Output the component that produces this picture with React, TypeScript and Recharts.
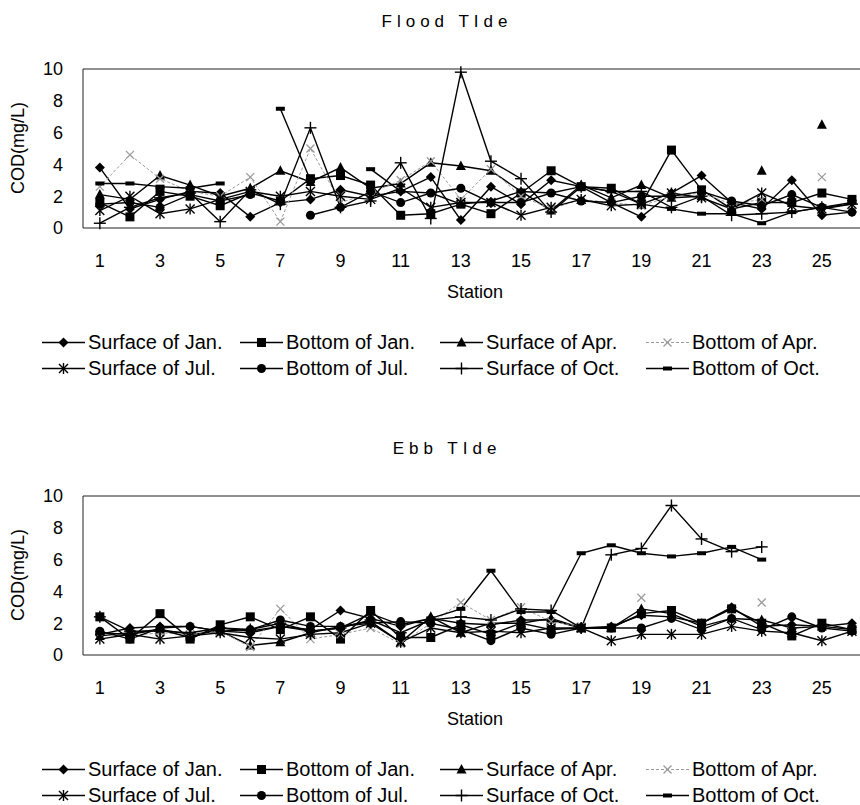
import { Line, LineChart, ReferenceLine, XAxis, YAxis } from "recharts";

const stations = [1, 2, 3, 4, 5, 6, 7, 8, 9, 10, 11, 12, 13, 14, 15, 16, 17, 18, 19, 20, 21, 22, 23, 24, 25, 26];
const stationTicks = [1, 3, 5, 7, 9, 11, 13, 15, 17, 19, 21, 23, 25];
const codTicks = [0, 2, 4, 6, 8, 10];

// Flood tide, COD (mg/L) per station
const floodSurfJan = [3.8, 1.2, 1.8, 2.3, 2.2, 0.7, 1.6, 1.8, 2.4, 2.0, 2.3, 3.2, 0.5, 2.6, 1.5, 3.0, 2.6, 1.6, 0.7, 2.2, 3.3, 1.6, 1.2, 3.0, 0.8, 1.0];
const floodBotJan = [1.6, 0.7, 2.3, 2.0, 1.4, 2.2, 1.7, 3.1, 3.3, 2.7, 0.8, 0.9, 1.5, 0.9, 2.2, 3.6, 2.6, 2.5, 1.5, 4.9, 2.4, 1.2, 1.6, 1.6, 2.2, 1.8];
const floodSurfApr = [2.1, 1.8, 3.3, 2.7, 2.0, 2.5, 3.6, 2.9, 3.8, 2.5, 2.8, 4.1, 3.9, 3.6, 2.3, 1.1, 2.7, 1.9, 2.7, 1.9, 2.0, null, 3.6, null, 6.5, null];
const floodBotApr = [2.6, 4.6, 3.1, 2.3, 2.0, 3.2, 0.4, 5.0, 1.6, 2.2, 3.0, 4.2, 1.8, 3.7, 2.0, 1.2, 1.8, 1.6, 1.4, 2.0, 2.2, 1.5, 1.8, null, 3.2, null];
const floodSurfJul = [1.1, 2.0, 0.9, 1.2, 1.8, 2.3, 2.0, 2.3, 2.0, 1.8, 2.5, 1.3, 1.6, 1.6, 0.8, 1.3, 1.8, 1.4, 1.5, 2.2, 1.9, 1.2, 2.2, 1.4, 1.2, 1.5];
const floodBotJul = [1.5, 1.6, 1.3, 2.1, 1.7, 2.1, null, 0.8, 1.3, 2.3, 1.6, 2.2, 2.5, 1.6, 1.6, 2.2, 1.7, 1.6, 2.0, 2.0, 2.3, 1.7, 1.4, 2.1, 1.3, 1.0];
const floodSurfOct = [0.3, 1.3, 1.9, 2.2, 0.4, 2.4, 1.5, 6.3, 1.3, 1.7, 4.1, 0.6, 9.8, 4.2, 3.1, 1.0, 2.6, 2.3, 2.3, 1.3, 2.0, 0.8, 0.9, 1.0, 1.3, 1.5];
const floodBotOct = [2.8, 2.8, 2.6, 2.5, 2.8, null, 7.5, 3.0, null, 3.7, 2.3, 2.2, 1.5, 1.7, 2.3, 2.2, 2.6, 2.3, 1.5, 1.2, 0.9, 0.9, 0.3, 1.0, 1.3, 1.6];

// Ebb tide
const ebbSurfJan = [1.3, 1.7, 1.8, 1.8, 1.5, 1.4, 1.8, 1.6, 2.8, 2.3, 1.8, 2.3, 2.0, 1.9, 2.2, 2.2, 1.7, 1.8, 2.5, 2.4, 2.0, 3.0, 1.8, 1.9, 1.8, 2.0];
const ebbBotJan = [2.4, 1.0, 2.6, 1.0, 1.9, 2.4, 1.6, 2.4, 1.0, 2.8, 1.1, 1.1, 1.9, 1.3, 2.0, 1.6, 1.7, 1.7, 2.6, 2.8, 2.0, 2.9, 2.0, 1.2, 2.0, 1.6];
const ebbSurfApr = [1.2, 1.4, 1.6, 1.3, 1.5, 0.6, 0.8, 1.4, 1.8, 2.1, 0.8, 2.4, 1.4, 2.0, 2.0, 2.3, 1.7, 1.7, 2.9, 2.6, 1.8, 2.3, 2.2, 1.7, 1.8, 1.6];
const ebbBotApr = [1.4, 1.2, 1.4, 1.3, 1.5, 0.5, 2.9, 1.0, 1.3, 1.7, 0.7, 2.0, 3.3, 2.2, 3.0, 2.1, 1.8, null, 3.6, null, null, null, 3.3, null, null, null];
const ebbSurfJul = [1.0, 1.3, 1.0, 1.2, 1.4, 1.1, 1.0, 1.3, 1.4, 2.0, 0.8, 1.7, 1.4, 1.5, 1.4, 1.7, 1.7, 0.9, 1.3, 1.3, 1.3, 1.8, 1.5, 1.4, 0.9, 1.5];
const ebbBotJul = [1.5, 1.0, 1.7, 1.8, 1.5, 1.6, 2.2, 1.8, 1.8, 2.0, 2.1, 2.0, 1.6, 0.9, 1.7, 1.3, 1.7, 1.7, 1.7, 2.3, 1.6, 2.3, 1.6, 2.4, 1.7, 1.5];
const ebbSurfOct = [2.4, 1.5, 1.5, 1.4, 1.7, 1.6, 2.0, 1.5, 1.7, 2.2, 1.4, 2.2, 2.4, 2.2, 2.9, 2.8, 1.7, 6.3, 6.7, 9.4, 7.3, 6.5, 6.8, null, null, null];
const ebbBotOct = [1.4, 1.3, 1.6, 1.1, 1.7, 1.5, 1.8, 1.5, 1.7, 2.6, 1.9, 2.3, 2.9, 5.3, 2.7, 2.7, 6.4, 6.9, 6.4, 6.2, 6.4, 6.8, 6.0, null, null, null];

type Shape = "diamond" | "square" | "triangle" | "x" | "star" | "circle" | "plus" | "dash";
type Series = { key: string; name: string; shape: Shape; color: string; dash?: string; width: number };

const series: Series[] = [
  { key: "surfJan", name: "Surface of Jan.", shape: "diamond", color: "#000", width: 1.4 },
  { key: "botJan", name: "Bottom of Jan.", shape: "square", color: "#000", width: 1.4 },
  { key: "surfApr", name: "Surface of Apr.", shape: "triangle", color: "#000", width: 1.4 },
  { key: "botApr", name: "Bottom of Apr.", shape: "x", color: "#9a9a9a", dash: "3 2", width: 1 },
  { key: "surfJul", name: "Surface of Jul.", shape: "star", color: "#000", width: 1.4 },
  { key: "botJul", name: "Bottom of Jul.", shape: "circle", color: "#000", width: 1.4 },
  { key: "surfOct", name: "Surface of Oct.", shape: "plus", color: "#000", width: 1.4 },
  { key: "botOct", name: "Bottom of Oct.", shape: "dash", color: "#000", width: 1.4 },
];

function buildRows(cols: Record<string, (number | null)[]>) {
  return stations.map((station, i) => {
    const row: Record<string, number | null> = { station };
    for (const k of Object.keys(cols)) row[k] = cols[k][i];
    return row;
  });
}

const floodRows = buildRows({
  surfJan: floodSurfJan, botJan: floodBotJan, surfApr: floodSurfApr, botApr: floodBotApr,
  surfJul: floodSurfJul, botJul: floodBotJul, surfOct: floodSurfOct, botOct: floodBotOct,
});
const ebbRows = buildRows({
  surfJan: ebbSurfJan, botJan: ebbBotJan, surfApr: ebbSurfApr, botApr: ebbBotApr,
  surfJul: ebbSurfJul, botJul: ebbBotJul, surfOct: ebbSurfOct, botOct: ebbBotOct,
});

function Marker({ shape, cx, cy, color }: { shape: Shape; cx: number; cy: number; color: string }) {
  switch (shape) {
    case "diamond":
      return <polygon points={`${cx},${cy - 5} ${cx + 5},${cy} ${cx},${cy + 5} ${cx - 5},${cy}`} fill={color} />;
    case "square":
      return <rect x={cx - 4.5} y={cy - 4.5} width={9} height={9} fill={color} />;
    case "triangle":
      return <polygon points={`${cx},${cy - 5.5} ${cx + 5},${cy + 4} ${cx - 5},${cy + 4}`} fill={color} />;
    case "x":
      return (
        <g stroke={color} strokeWidth={1.3}>
          <line x1={cx - 4} y1={cy - 4} x2={cx + 4} y2={cy + 4} />
          <line x1={cx - 4} y1={cy + 4} x2={cx + 4} y2={cy - 4} />
        </g>
      );
    case "star":
      return (
        <g stroke={color} strokeWidth={1.4}>
          <line x1={cx - 4.5} y1={cy - 4.5} x2={cx + 4.5} y2={cy + 4.5} />
          <line x1={cx - 4.5} y1={cy + 4.5} x2={cx + 4.5} y2={cy - 4.5} />
          <line x1={cx} y1={cy - 5.5} x2={cx} y2={cy + 5.5} />
        </g>
      );
    case "circle":
      return <circle cx={cx} cy={cy} r={4.5} fill={color} />;
    case "plus":
      return (
        <g stroke={color} strokeWidth={1.4}>
          <line x1={cx - 6} y1={cy} x2={cx + 6} y2={cy} />
          <line x1={cx} y1={cy - 6} x2={cx} y2={cy + 6} />
        </g>
      );
    case "dash":
      return <rect x={cx - 4.5} y={cy - 2} width={9} height={4} fill={color} />;
  }
}

const tickStyle = { fill: "#000", fontSize: 18, fontFamily: "Liberation Sans, Arial, sans-serif" };

function Panel({ title, rows, top }: { title: string; rows: Record<string, number | null>[]; top: number }) {
  return (
    <div style={{ position: "absolute", left: 0, top, width: 860, height: 428 }}>
      <div
        style={{
          position: "absolute", left: 447, top: 22, transform: "translate(-50%, -50%)",
          fontSize: 17, letterSpacing: 5, whiteSpace: "nowrap",
        }}
      >
        {title}
      </div>
      <div
        style={{
          position: "absolute", left: 18, top: 148, transform: "translate(-50%, -50%) rotate(-90deg)",
          fontSize: 18, whiteSpace: "nowrap",
        }}
      >
        COD(mg/L)
      </div>
      <LineChart width={880} height={290} data={rows} margin={{ top: 69, right: 13, bottom: 22, left: 23 }}>
        <XAxis
          type="number"
          dataKey="station"
          domain={[0.44, 26.5]}
          ticks={stationTicks}
          allowDataOverflow
          height={40}
          tickLine={false}
          tickSize={6}
          tickMargin={20}
          axisLine={{ stroke: "#222" }}
          tick={tickStyle}
        />
        <YAxis
          domain={[0, 10]}
          ticks={codTicks}
          width={60}
          tickLine={false}
          tickSize={6}
          tickMargin={14}
          axisLine={{ stroke: "#222" }}
          tick={tickStyle}
        />
        <ReferenceLine y={10} stroke="#222" />
        {series.map((s) => (
          <Line
            key={s.key}
            dataKey={s.key}
            name={s.name}
            type="linear"
            stroke={s.color}
            strokeWidth={s.width}
            strokeDasharray={s.dash}
            isAnimationActive={false}
            dot={(p: any) =>
              p.value == null || p.cy == null ? (
                <g key={`${s.key}-${p.index}`} />
              ) : (
                <g key={`${s.key}-${p.index}`}>
                  <Marker shape={s.shape} cx={p.cx} cy={p.cy} color={s.color} />
                </g>
              )
            }
            activeDot={false}
          />
        ))}
      </LineChart>
      <div
        style={{
          position: "absolute", left: 475, top: 292, transform: "translate(-50%, -50%)",
          fontSize: 18, whiteSpace: "nowrap",
        }}
      >
        Station
      </div>
      {series.map((s, i) => (
        <div
          key={s.key}
          style={{
            position: "absolute",
            left: [42, 240, 440, 646][i % 4],
            top: i < 4 ? 342 : 368,
            transform: "translateY(-50%)",
            display: "flex",
            alignItems: "center",
            whiteSpace: "nowrap",
            fontSize: 20,
          }}
        >
          <svg width={43} height={14}>
            <line x1={0} y1={7} x2={43} y2={7} stroke={s.color} strokeWidth={s.width} strokeDasharray={s.dash} />
            <Marker shape={s.shape} cx={21.5} cy={7} color={s.color} />
          </svg>
          <span style={{ marginLeft: 3 }}>{s.name}</span>
        </div>
      ))}
    </div>
  );
}

export default function App() {
  return (
    <div
      style={{
        position: "absolute", left: 0, top: 0, width: 860, height: 805, overflow: "hidden",
        background: "#fff", color: "#000", fontFamily: "Liberation Sans, Arial, sans-serif",
      }}
    >
      <Panel title="Flood TIde" rows={floodRows} top={0} />
      <Panel title="Ebb TIde" rows={ebbRows} top={427} />
    </div>
  );
}
